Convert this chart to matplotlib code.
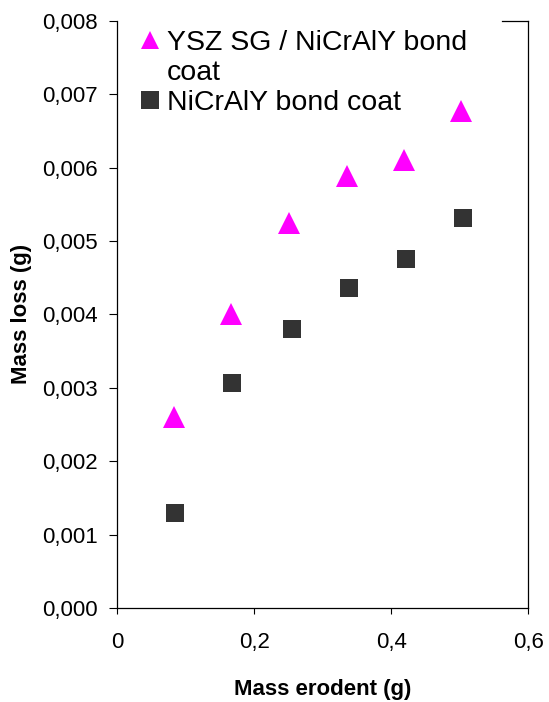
import matplotlib.pyplot as plt
from matplotlib.lines import Line2D
from matplotlib.ticker import FuncFormatter

plt.rcParams['font.family'] = ['Liberation Sans', 'DejaVu Sans']

# Data
x_ysz = [0.083, 0.1665, 0.251, 0.335, 0.419, 0.502]
y_ysz = [0.00260, 0.00400, 0.00525, 0.00589, 0.00611, 0.00677]
x_bond = [0.0842, 0.1675, 0.255, 0.338, 0.4215, 0.5047]
y_bond = [0.00129, 0.00306, 0.00380, 0.00436, 0.00476, 0.00531]

x_ticks = [0, 0.2, 0.4, 0.6]
y_ticks = [0, 0.001, 0.002, 0.003, 0.004, 0.005, 0.006, 0.007, 0.008]

label_ysz = 'YSZ SG / NiCrAlY bond'
label_ysz_2 = 'coat'
label_bond = 'NiCrAlY bond coat'

fig = plt.figure(figsize=(5.49, 7.02), dpi=100)
ax = fig.add_axes([0.2137, 0.1339, 0.7486, 0.8365])

# Series
ysz, = ax.plot(x_ysz, y_ysz, linestyle='none', marker='^', markersize=16.5,
               color='#ff00ff', markeredgewidth=0)
bond, = ax.plot(x_bond, y_bond, linestyle='none', marker='s', markersize=13,
                color='#333333', markeredgewidth=0)

ax.set_xlim(0, 0.6)
ax.set_ylim(0, 0.008)
ax.set_xticks(x_ticks)
ax.set_yticks(y_ticks)

# decimal comma labels
ax.xaxis.set_major_formatter(FuncFormatter(lambda v, p: ('%g' % round(v, 1)).replace('.', ',')))
ax.yaxis.set_major_formatter(FuncFormatter(lambda v, p: ('%.3f' % v).replace('.', ',')))

ax.tick_params(axis='both', direction='out', labelsize=16, width=0.8, color='black')
ax.tick_params(axis='x', length=4, pad=13)
ax.tick_params(axis='y', length=6, pad=8)

for side in ['left', 'bottom', 'right']:
    ax.spines[side].set_linewidth(0.9)
    ax.spines[side].set_color('black')
ax.spines['top'].set_linewidth(0.9)
ax.spines['top'].set_bounds(0.5616, 0.6)

ax.set_xlabel('Mass erodent (g)', fontsize=16, fontweight='bold', labelpad=19)
ax.set_ylabel('Mass loss (g)', fontsize=16, fontweight='bold', labelpad=7)

# Legend: wrapped first label drawn as an extra row with no marker
blank = Line2D([], [], linestyle='none')
leg = ax.legend([ysz, blank, bond], [label_ysz, label_ysz_2, label_bond],
                loc='upper left', bbox_to_anchor=(0.053, 0.984), frameon=False,
                fontsize=20.5, labelspacing=0.14, handlelength=0.8, handletextpad=0.17,
                borderpad=0, borderaxespad=0, numpoints=1)
leg.legend_handles[0].set_markersize(12.5)
leg.legend_handles[2].set_markersize(13)

plt.savefig('out.png', dpi=100)
